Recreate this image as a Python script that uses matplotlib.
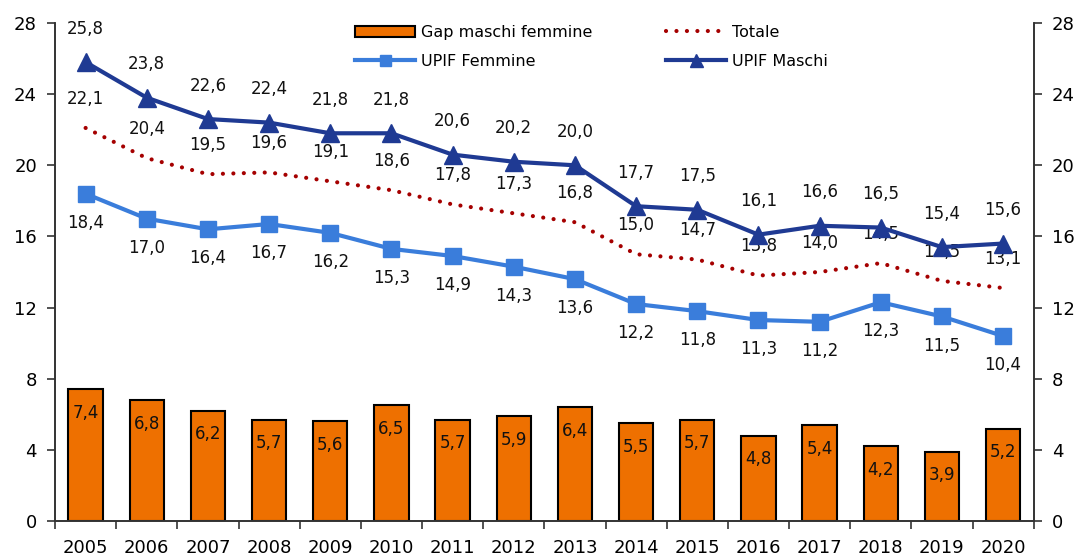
import numpy as np
import matplotlib
matplotlib.use("Agg")
import matplotlib.pyplot as plt

plt.rcParams['font.family'] = ['DejaVu Sans']

anni = ['2005', '2006', '2007', '2008', '2009', '2010', '2011', '2012',
        '2013', '2014', '2015', '2016', '2017', '2018', '2019', '2020']
maschi = [25.8, 23.8, 22.6, 22.4, 21.8, 21.8, 20.6, 20.2, 20.0, 17.7, 17.5, 16.1, 16.6, 16.5, 15.4, 15.6]
totale = [22.1, 20.4, 19.5, 19.6, 19.1, 18.6, 17.8, 17.3, 16.8, 15.0, 14.7, 13.8, 14.0, 14.5, 13.5, 13.1]
femmine = [18.4, 17.0, 16.4, 16.7, 16.2, 15.3, 14.9, 14.3, 13.6, 12.2, 11.8, 11.3, 11.2, 12.3, 11.5, 10.4]
gap = [7.4, 6.8, 6.2, 5.7, 5.6, 6.5, 5.7, 5.9, 6.4, 5.5, 5.7, 4.8, 5.4, 4.2, 3.9, 5.2]
yticks = [0, 4, 8, 12, 16, 20, 24, 28]

c_bar = '#EE7000'
c_fem = '#3A7DDB'
c_mas = '#1F3A93'
c_tot = '#A50000'
c_axis = '#333333'
lab_size = 12

def fmt(v):
    return ('%.1f' % v).replace('.', ',')

x = np.arange(len(anni))

fig = plt.figure(figsize=(10.79, 5.57), dpi=100)
ax = fig.add_axes([0.051, 0.0646, 0.907, 0.8941])
ax2 = ax.twinx()

bars = ax.bar(x, gap, width=0.56, color=c_bar, edgecolor='black', linewidth=1.5,
              label='Gap maschi femmine', zorder=2)
l_tot, = ax.plot(x, totale, linestyle=(0, (0.01, 2.5)), dash_capstyle='round',
                 color=c_tot, linewidth=3, label='Totale', zorder=3)
l_fem, = ax.plot(x, femmine, '-s', color=c_fem, linewidth=3, markersize=11,
                 label='UPIF Femmine', zorder=4)
l_mas, = ax.plot(x, maschi, '-^', color=c_mas, linewidth=3, markersize=13,
                 label='UPIF Maschi', zorder=5)

# etichette dati
for i in x:
    ax.annotate(fmt(maschi[i]), (i, maschi[i]), xytext=(0, 24), textcoords='offset points',
                ha='center', va='center', fontsize=lab_size, color='#111111')
    ax.annotate(fmt(totale[i]), (i, totale[i]), xytext=(0, 21), textcoords='offset points',
                ha='center', va='center', fontsize=lab_size, color='#111111')
    ax.annotate(fmt(femmine[i]), (i, femmine[i]), xytext=(0, -21), textcoords='offset points',
                ha='center', va='center', fontsize=lab_size, color='#111111')
    ax.annotate(fmt(gap[i]), (i, gap[i]), xytext=(0, -17), textcoords='offset points',
                ha='center', va='center', fontsize=lab_size, color='#111111')

for a in (ax, ax2):
    a.set_ylim(0, 28)
    a.set_yticks(yticks)
    a.set_xlim(-0.5, len(anni) - 0.5)
    a.spines['top'].set_visible(False)
    for s in ('left', 'right', 'bottom'):
        a.spines[s].set_color(c_axis)
        a.spines[s].set_linewidth(1.2)
    a.tick_params(axis='y', direction='out', length=6, width=1.2, color=c_axis,
                  labelsize=13, pad=7)

ax.set_xticks(x)
ax.set_xticklabels(anni)
ax.set_xticks(np.arange(-0.5, len(anni)), minor=True)
ax.tick_params(axis='x', which='major', length=0, labelsize=13, pad=13)
ax.tick_params(axis='x', which='minor', direction='out', length=6, width=1.2, color=c_axis)

leg = fig.legend(handles=[bars, l_fem, l_tot, l_mas], ncol=2, loc='upper left',
                 bbox_to_anchor=(347 / 1079, 1 - 17 / 557), frameon=False,
                 fontsize=11.5, borderpad=0, handlelength=3.75, handletextpad=0.4,
                 columnspacing=4.6, labelspacing=0.85, markerscale=0.72)

fig.savefig('out.png', dpi=100)
plt.close(fig)
